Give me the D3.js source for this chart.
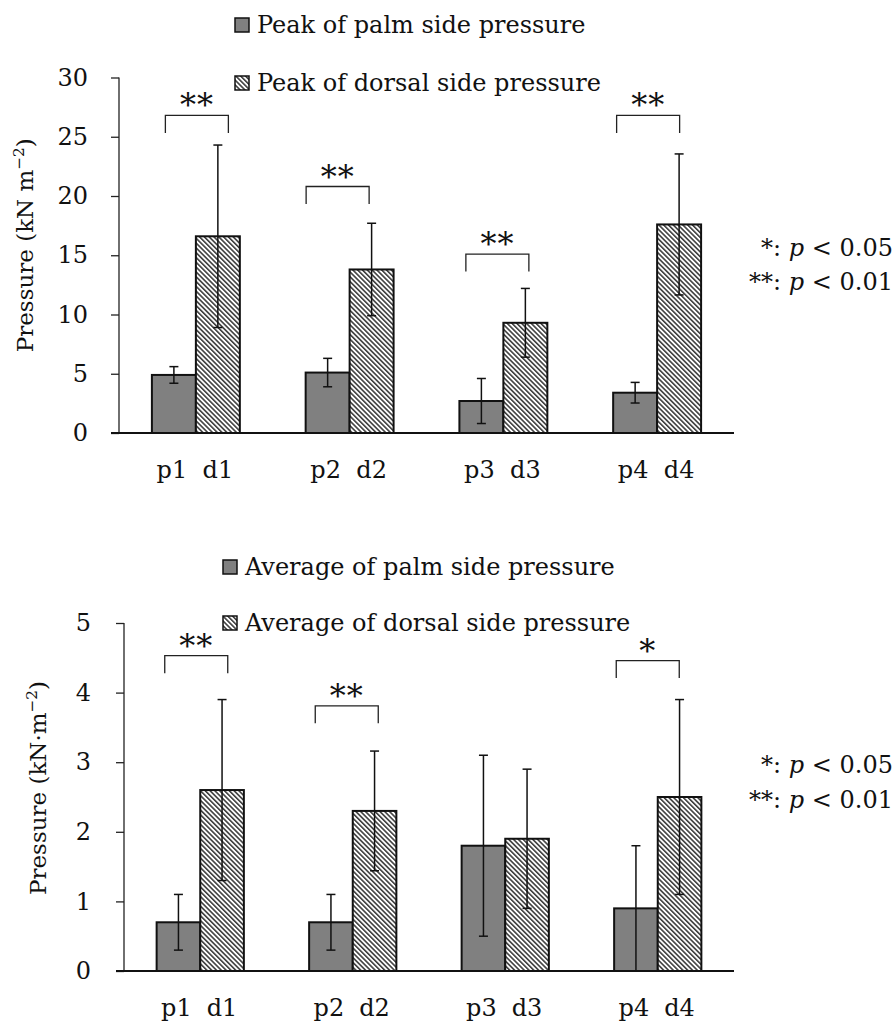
<!DOCTYPE html>
<html>
<head>
<meta charset="utf-8">
<script src="https://cdn.jsdelivr.net/npm/d3@7/dist/d3.min.js"></script>
<style>
  html, body { margin: 0; padding: 0; background: #fff; }
  svg { display: block; }
  text { font-family: "DejaVu Serif", "Liberation Serif", serif; fill: #111; }
</style>
</head>
<body>
<svg id="chart" width="896" height="1023"></svg>
<script>
// ---- data ----
const groups = ["1", "2", "3", "4"];
const sides = ["p", "d"];

const peakPalm     = [4.9, 5.1, 2.7, 3.4];
const peakPalmSD   = [0.7, 1.2, 1.9, 0.87];
const peakDorsal   = [16.6, 13.8, 9.3, 17.6];
const peakDorsalSD = [7.7, 3.9, 2.9, 5.95];

const avgPalm      = [0.7, 0.7, 1.8, 0.9];
const avgPalmSD    = [0.4, 0.4, 1.3, 0.9];
const avgDorsal    = [2.6, 2.3, 1.9, 2.5];
const avgDorsalSD  = [1.3, 0.86, 1.0, 1.4];

const peakTicks = [0, 5, 10, 15, 20, 25, 30];
const avgTicks  = [0, 1, 2, 3, 4, 5];

// significance marks per group (empty = none) and the level of each bracket
const peakSig      = ["**", "**", "**", "**"];
const peakSigLevel = [26.8, 20.8, 15.1, 26.8];
const avgSig       = ["**", "**", "", "*"];
const avgSigLevel  = [4.53, 3.81, null, 4.46];

const peakLegend = ["Peak of palm side pressure", "Peak of dorsal side pressure"];
const avgLegend  = ["Average of palm side pressure", "Average of dorsal side pressure"];
const sigNotes = ["*: ", "**: "];
const sigP = ["0.05", "0.01"];

// ---- drawing ----
const svg = d3.select("#chart");
const FS = 24;
const TFS = 23;

const defs = svg.append("defs");
const pat = defs.append("pattern")
  .attr("id", "hatch")
  .attr("patternUnits", "userSpaceOnUse")
  .attr("width", 3.4).attr("height", 10)
  .attr("patternTransform", "rotate(-45)");
pat.append("rect").attr("width", 3.4).attr("height", 10).attr("fill", "#fff");
pat.append("line").attr("x1", 0.8).attr("x2", 0.8).attr("y1", 0).attr("y2", 10)
  .attr("stroke", "#222").attr("stroke-width", 1.4);

function drawPanel(o) {
  const g = svg.append("g");
  const x0 = d3.scaleBand().domain(groups).range([o.left, o.right]);
  const bw = x0.bandwidth();
  const x1 = d3.scaleBand().domain(sides).range([bw * 0.214, bw * 0.786]);
  const y = d3.scaleLinear().domain([0, o.max]).range([o.bottom, o.top]);

  // y axis
  const yAxis = g.append("g").attr("transform", `translate(${o.left},0)`)
    .call(d3.axisLeft(y).tickValues(o.ticks).tickSize(8).tickPadding(o.tickPad).tickFormat(d3.format("d")));
  yAxis.select(".domain").attr("stroke", "#222").attr("stroke-width", 1.3)
    .attr("d", `M0,${o.bottom}V${o.top}`);
  yAxis.selectAll(".tick line").attr("stroke", "#222").attr("stroke-width", 1.3);
  yAxis.selectAll(".tick text").attr("font-size", FS).attr("font-family", "DejaVu Serif").attr("fill", "#111");

  // y title
  g.append("text")
    .attr("transform", `translate(${o.titleX},${(o.top + o.bottom) / 2 - o.titleShift}) rotate(-90)`)
    .attr("text-anchor", "middle")
    .attr("font-size", TFS)
    .call(t => {
      t.append("tspan").text(o.titleMain);
      t.append("tspan").attr("font-size", TFS * 0.66).attr("dy", -9).text("−2");
      t.append("tspan").attr("dy", 9).text(")");
    });

  const rows = groups.map((grp, i) => [
    { grp, side: "p", v: o.palm[i], sd: o.palmSD[i] },
    { grp, side: "d", v: o.dorsal[i], sd: o.dorsalSD[i] }
  ]).flat();

  // bars
  g.selectAll("rect.bar").data(rows).join("rect")
    .attr("class", "bar")
    .attr("x", d => x0(d.grp) + x1(d.side))
    .attr("width", x1.bandwidth())
    .attr("y", d => y(d.v))
    .attr("height", d => y(0) - y(d.v))
    .attr("fill", d => d.side === "p" ? "#808080" : "url(#hatch)")
    .attr("stroke", "#111").attr("stroke-width", 2);

  // error bars
  const eb = g.selectAll("g.err").data(rows).join("g").attr("class", "err")
    .attr("transform", d => `translate(${x0(d.grp) + x1(d.side) + x1.bandwidth() / 2},0)`);
  eb.append("line").attr("y1", d => y(Math.max(0, d.v - d.sd))).attr("y2", d => y(d.v + d.sd))
    .attr("stroke", "#111").attr("stroke-width", 1.5);
  eb.append("line").attr("x1", -4.5).attr("x2", 4.5)
    .attr("y1", d => y(d.v + d.sd)).attr("y2", d => y(d.v + d.sd))
    .attr("stroke", "#111").attr("stroke-width", 1.5);
  eb.append("line").attr("x1", -4.5).attr("x2", 4.5)
    .attr("y1", d => y(Math.max(0, d.v - d.sd))).attr("y2", d => y(Math.max(0, d.v - d.sd)))
    .attr("stroke", "#111").attr("stroke-width", 1.5);

  // x axis baseline
  g.append("line").attr("x1", o.left - 8).attr("x2", o.right)
    .attr("y1", y(0)).attr("y2", y(0)).attr("stroke", "#111").attr("stroke-width", 2);

  // category labels under each bar
  g.selectAll("text.cat").data(rows).join("text")
    .attr("class", "cat")
    .attr("x", d => x0(d.grp) + x1(d.side) + x1.bandwidth() / 2 + (d.side === "p" ? -2 : 0))
    .attr("y", o.bottom + 45)
    .attr("text-anchor", "middle")
    .attr("font-size", FS)
    .text(d => d.side + d.grp);

  // significance brackets
  groups.forEach((grp, i) => {
    if (!o.sig[i]) return;
    const cx = x0(grp) + bw / 2 + o.sigShift[i];
    const ly = y(o.sigLevel[i]);
    const hw = 31.5;
    g.append("path")
      .attr("d", `M${cx - hw},${ly + 17.5}V${ly}H${cx + hw}V${ly + 17.5}`)
      .attr("fill", "none").attr("stroke", "#222").attr("stroke-width", 1.3);
    g.append("text")
      .attr("x", cx).attr("y", ly + 1)
      .attr("text-anchor", "middle")
      .attr("font-size", 32)
      .attr("letter-spacing", 1)
      .text(o.sig[i]);
  });

  // legend
  o.legend.forEach((lab, i) => {
    const ly = o.legendY[i];
    g.append("rect").attr("x", o.legendX).attr("y", ly - 7).attr("width", 14).attr("height", 14)
      .attr("fill", i === 0 ? "#808080" : "url(#hatch)")
      .attr("stroke", "#111").attr("stroke-width", 1.5);
    g.append("text").attr("x", o.legendX + 22).attr("y", ly)
      .attr("dominant-baseline", "central")
      .attr("font-size", FS)
      .text(lab);
  });

  // significance note
  sigNotes.forEach((s, i) => {
    g.append("text")
      .attr("x", 893).attr("y", o.noteY[i])
      .attr("text-anchor", "end")
      .attr("dominant-baseline", "central")
      .attr("font-size", FS)
      .call(t => {
        t.append("tspan").text(s);
        t.append("tspan").attr("font-style", "italic").text("p");
        t.append("tspan").text(" < " + sigP[i]);
      });
  });
}

drawPanel({
  left: 119, right: 734, top: 77.5, bottom: 433, max: 30, ticks: peakTicks, tickPad: 23,
  palm: peakPalm, palmSD: peakPalmSD, dorsal: peakDorsal, dorsalSD: peakDorsalSD,
  sig: peakSig, sigLevel: peakSigLevel, sigShift: [1, -12, -6, -9],
  legend: peakLegend, legendX: 235, legendY: [25, 83],
  titleX: 33, titleShift: 10, titleMain: "Pressure (kN m",
  noteY: [248, 282]
});

drawPanel({
  left: 124, right: 734, top: 623, bottom: 971, max: 5, ticks: avgTicks, tickPad: 25,
  palm: avgPalm, palmSD: avgPalmSD, dorsal: avgDorsal, dorsalSD: avgDorsalSD,
  sig: avgSig, sigLevel: avgSigLevel, sigShift: [-4, -6, 0, -10],
  legend: avgLegend, legendX: 223, legendY: [567, 623],
  titleX: 46, titleShift: 9, titleMain: "Pressure (kN·m",
  noteY: [765, 800]
});
</script>
</body>
</html>
